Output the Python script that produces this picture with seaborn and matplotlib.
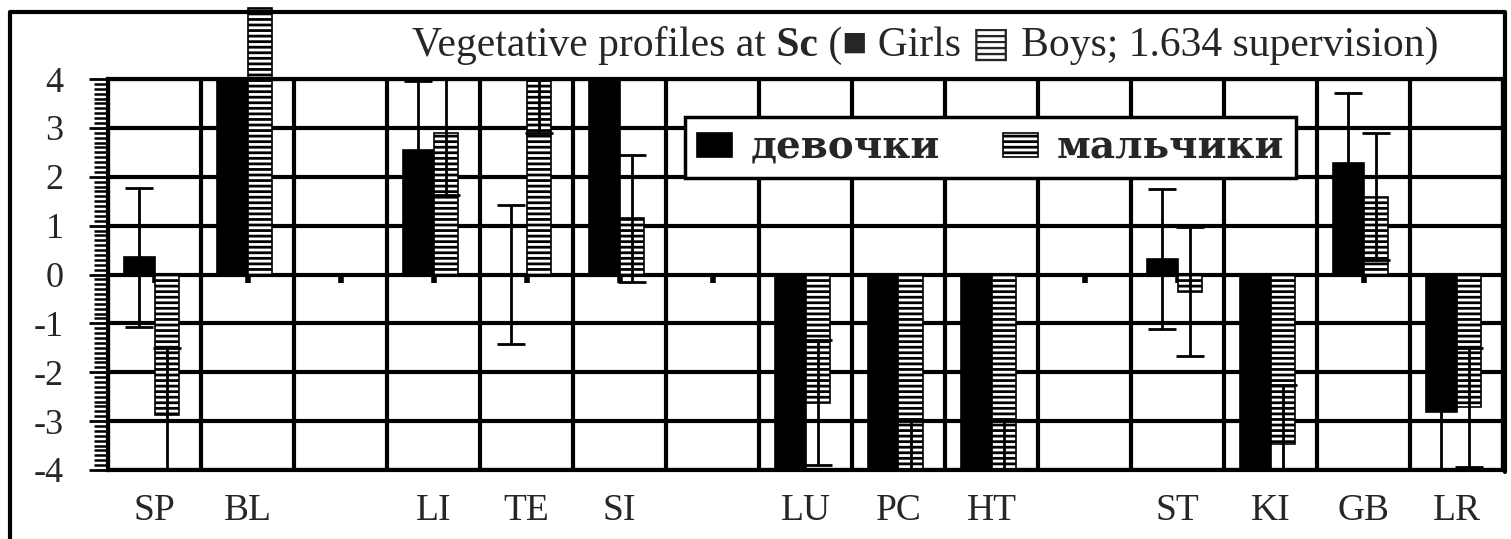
import matplotlib
matplotlib.use("Agg")
import matplotlib.pyplot as plt
from matplotlib.lines import Line2D
from matplotlib.ticker import MultipleLocator
import numpy as np
import pandas as pd
import seaborn as sns

# slots on the x axis (three empty gaps between organ groups)
slots = ["SP", "BL", "gap1", "LI", "TE", "SI", "gap2", "LU", "PC", "HT", "gap3", "ST", "KI", "GB", "LR"]
tick_labels = ["SP", "BL", "", "LI", "TE", "SI", "", "LU", "PC", "HT", "", "ST", "KI", "GB", "LR"]

girls = [0.35, 4.1, np.nan, 2.54, 0.0, 4.1, np.nan, -4.2, -4.2, -4.2, np.nan, 0.31, -4.2, 2.29, -2.82]
girls_sd = [1.42, 1.42, np.nan, 1.42, 1.43, 1.42, np.nan, 1.42, 1.42, 1.42, np.nan, 1.43, 1.42, 1.42, 1.42]
boys = [-2.87, 5.45, np.nan, 2.89, 4.1, 1.15, np.nan, -2.62, -4.2, -4.2, np.nan, -0.35, -3.46, 1.59, -2.72]
boys_sd = [1.37, 1.3, np.nan, 1.26, 1.2, 1.3, np.nan, 1.27, 1.2, 1.2, np.nan, 1.32, 1.2, 1.3, 1.22]

legend_labels = ["девочки", "мальчики"]

W, H = 1511, 539


def fx(px):
    return px / W


def fy(py):
    return 1 - py / H


sns.set_theme(style="white")
plt.rcParams.update({
    "font.family": ["Liberation Serif", "DejaVu Sans"],
    "axes.unicode_minus": False,
    "hatch.color": "black",
    "hatch.linewidth": 2.0,
})
serif_fb = ["Liberation Serif", "DejaVu Sans"]

df = pd.DataFrame({
    "slot": slots * 2,
    "group": ["Girls"] * len(slots) + ["Boys"] * len(slots),
    "value": girls + boys,
}).dropna()

fig = plt.figure(figsize=(W / 100, H / 100), dpi=100)
ax = fig.add_axes([fx(108), 1 - 470 / H, (1503 - 108) / W, 391 / H])

sns.barplot(data=df, x="slot", y="value", hue="group", order=slots,
            hue_order=["Girls", "Boys"], palette={"Girls": "black", "Boys": "white"},
            width=0.66, errorbar=None, legend=False, saturation=1,
            edgecolor="black", linewidth=1.2, ax=ax, zorder=2)

err_x, err_y, err_s = [], [], []
girl_patch = boy_patch = None
for bar in ax.patches:
    cx = bar.get_x() + bar.get_width() / 2
    k = int(round(cx))
    if cx < k:
        girl_patch = bar
        sd = girls_sd[k]
        val = girls[k]
    else:
        boy_patch = bar
        bar.set_width(0.26)
        bar.set_hatch("---")
        sd = boys_sd[k]
        val = boys[k]
        cx = bar.get_x() + bar.get_width() / 2
    if bar.get_height() > 4.5:
        bar.set_clip_on(False)
    err_x.append(cx)
    err_y.append(val)
    err_s.append(sd)

ax.errorbar(err_x, err_y, yerr=err_s, fmt="none", ecolor="black",
            elinewidth=2, capsize=10, capthick=2, zorder=3)

ax.set_xlim(-0.5, len(slots) - 0.5)
ax.set_ylim(-4, 4)
ax.set_xticks(range(len(slots)))
ax.set_xticklabels(tick_labels)
ax.set_xticks(np.arange(-0.5, len(slots), 1), minor=True)
ax.set_yticks(range(-4, 5))
ax.yaxis.set_minor_locator(MultipleLocator(0.1))
ax.set_xlabel("")
ax.set_ylabel("")

ax.grid(True, which="minor", axis="x", color="black", linewidth=3, zorder=0.5)
ax.grid(True, which="major", axis="y", color="black", linewidth=3, zorder=0.5)
ax.grid(False, which="major", axis="x")
ax.set_axisbelow(True)

for side in ["left", "right", "top", "bottom"]:
    ax.spines[side].set_visible(True)
    ax.spines[side].set_color("black")
    ax.spines[side].set_linewidth(3)

ax.tick_params(axis="x", which="both", length=0, pad=17, labelsize=27)
ax.tick_params(axis="y", which="major", direction="out", length=14, width=2,
               color="black", pad=18, labelsize=26, left=True)
ax.tick_params(axis="y", which="minor", direction="out", length=10, width=1.8,
               color="black", left=True)
for lab in ax.get_xticklabels() + ax.get_yticklabels():
    lab.set_family(serif_fb)

# small ticks on the zero line
sec = ax.secondary_xaxis(0.5)
sec.set_alignment("bottom")
sec.set_xticks(range(len(slots)))
sec.tick_params(axis="x", direction="out", length=6, width=4, color="black",
                labelbottom=False, labeltop=False)
for sp in sec.spines.values():
    sp.set_visible(False)

# outer frame
fig.add_artist(Line2D([fx(10), fx(10), fx(1505), fx(1505)],
                      [0, fy(12), fy(12), fy(472)],
                      color="black", linewidth=3))

# title made of pieces (bold "Sc")
t1 = fig.text(fx(412), fy(65), "Vegetative profiles at", fontsize=30,
              family=serif_fb, va="bottom", ha="left")
t2 = ax.annotate(" Sc", xy=(1, 0), xycoords=t1, va="bottom", ha="left",
                 fontsize=30, fontweight="bold", family=serif_fb, annotation_clip=False)
t3 = ax.annotate(" (\u25a0 Girls \u25a4 Boys; 1.634 supervision)", xy=(1, 0), xycoords=t2,
                 va="bottom", ha="left", fontsize=30, family=serif_fb, annotation_clip=False)

leg = fig.legend([girl_patch, boy_patch], legend_labels, loc="upper left",
                 bbox_to_anchor=(fx(685), fy(117)), ncol=2, frameon=True, fancybox=False,
                 edgecolor="black", framealpha=1,
                 prop={"family": "DejaVu Serif", "weight": "bold", "size": 28},
                 handlelength=0.9, handleheight=0.6, handletextpad=0.5,
                 columnspacing=1.6, borderaxespad=0, borderpad=0.3)
leg.get_frame().set_linewidth(2.5)

fig.savefig("out.png", dpi=100, facecolor="white")
